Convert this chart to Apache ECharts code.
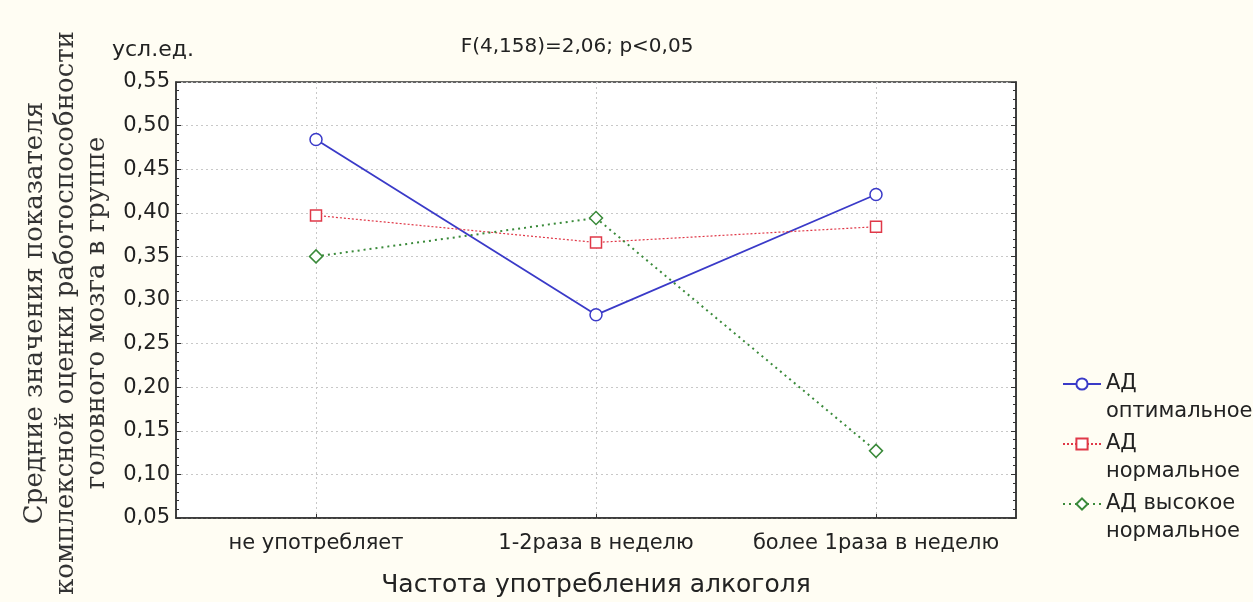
<!DOCTYPE html>
<html>
<head>
<meta charset="utf-8">
<script src="https://cdn.jsdelivr.net/npm/echarts@6/dist/echarts.min.js"></script>
<style>
html,body{margin:0;padding:0;background:#fffdf3;}
#c{width:1253px;height:602px;}
</style>
</head>
<body>
<div id="c"></div>
<script>
var categories = ['не употребляет', '1-2раза в неделю', 'более 1раза в неделю'];
var seriesNames = ['АД оптимальное', 'АД нормальное', 'АД высокое нормальное'];
var legendLabels = ['АД\nоптимальное', 'АД\nнормальное', 'АД высокое\nнормальное'];
var optimalValues = [0.484, 0.283, 0.421];
var normalValues = [0.397, 0.366, 0.384];
var highNormalValues = [0.350, 0.394, 0.127];
var yMin = 0.05, yMax = 0.55, yStep = 0.05;

var chart = echarts.init(document.getElementById('c'));
function fmt(v){ return v.toFixed(2).replace('.', ','); }
var sans = 'DejaVu Sans, Liberation Sans, Arial, sans-serif';
var serif = 'DejaVu Serif, Liberation Serif, Times New Roman, serif';

var option = {
  backgroundColor: '#fffdf3',
  animation: false,
  title: [
    { text: 'F(4,158)=2,06; p<0,05', left: 572, top: 32, textAlign: 'center',
      textStyle: { fontFamily: sans, fontSize: 20, fontWeight: 'normal', color: '#222' } },
    { text: 'усл.ед.', left: 107, top: 34,
      textStyle: { fontFamily: sans, fontSize: 22, fontWeight: 'normal', color: '#222' } }
  ],
  grid: { left: 176, top: 82, width: 840, height: 436, show: true, backgroundColor: '#ffffff',
          borderColor: '#333', borderWidth: 1.5, outerBoundsMode: 'none', containLabel: false },
  legend: {
    orient: 'vertical', left: 1057, top: 337, itemWidth: 38, itemHeight: 14, itemGap: -24,
    data: seriesNames,
    formatter: function(n){ return '\n' + legendLabels[seriesNames.indexOf(n)]; },
    textStyle: { fontFamily: sans, fontSize: 21, color: '#222', lineHeight: 28 }
  },
  xAxis: {
    type: 'category', data: categories, boundaryGap: true,
    axisLine: { lineStyle: { color: '#333', width: 1.5 } },
    axisTick: { show: true, inside: true, alignWithLabel: true, length: 4, lineStyle: { color: '#333' } },
    axisLabel: { interval: 0, hideOverlap: false, fontFamily: sans, fontSize: 21, color: '#222', margin: 15 },
    splitLine: { show: true, alignWithLabel: true, lineStyle: { color: '#c8c8c8', type: [2, 3], width: 1 } },
    name: 'Частота употребления алкоголя', nameLocation: 'middle', nameGap: 55,
    nameTextStyle: { fontFamily: sans, fontSize: 25, color: '#222' }
  },
  yAxis: [
    {
      type: 'value', min: yMin, max: yMax, interval: yStep,
      axisLine: { show: true, lineStyle: { color: '#333', width: 1.5 } },
      axisTick: { show: true, inside: true, length: 5, lineStyle: { color: '#333' } },
      minorTick: { show: true, splitNumber: 5, length: 3, lineStyle: { color: '#333' } },
      axisLabel: { formatter: fmt, fontFamily: sans, fontSize: 21, color: '#222', margin: 6 },
      splitLine: { show: true, lineStyle: { color: '#c8c8c8', type: [2, 3], width: 1 } },
      name: 'Средние значения показателя\nкомплексной оценки работоспособности\nголовного мозга в группе',
      nameLocation: 'middle', nameGap: 52, nameRotate: 90,
      nameTextStyle: { fontFamily: serif, fontSize: 26, color: '#333', lineHeight: 31, padding: [0, 26, 0, 0] }
    },
    {
      type: 'value', position: 'right', min: yMin, max: yMax, interval: yStep,
      axisLine: { show: true, lineStyle: { color: '#333', width: 1.5 } },
      axisTick: { show: true, inside: true, length: 5, lineStyle: { color: '#333' } },
      minorTick: { show: true, splitNumber: 5, length: 3, lineStyle: { color: '#333' } },
      axisLabel: { show: false },
      splitLine: { show: false }
    }
  ],
  series: [
    { name: seriesNames[0], type: 'line', data: optimalValues, symbol: 'circle', symbolSize: 12,
      itemStyle: { color: '#ffffff', borderColor: '#3a3ac8', borderWidth: 1.5 },
      lineStyle: { color: '#3a3ac8', width: 1.8, type: 'solid' } },
    { name: seriesNames[1], type: 'line', data: normalValues, symbol: 'rect', symbolSize: 11,
      itemStyle: { color: '#ffffff', borderColor: '#e03848', borderWidth: 1.5 },
      lineStyle: { color: '#e03848', width: 1.2, type: [2, 2] } },
    { name: seriesNames[2], type: 'line', data: highNormalValues, symbol: 'diamond', symbolSize: 13,
      itemStyle: { color: '#ffffff', borderColor: '#3a8a3a', borderWidth: 1.5 },
      lineStyle: { color: '#3a8a3a', width: 2, type: [2, 4] } }
  ]
};
chart.setOption(option);
</script>
</body>
</html>
